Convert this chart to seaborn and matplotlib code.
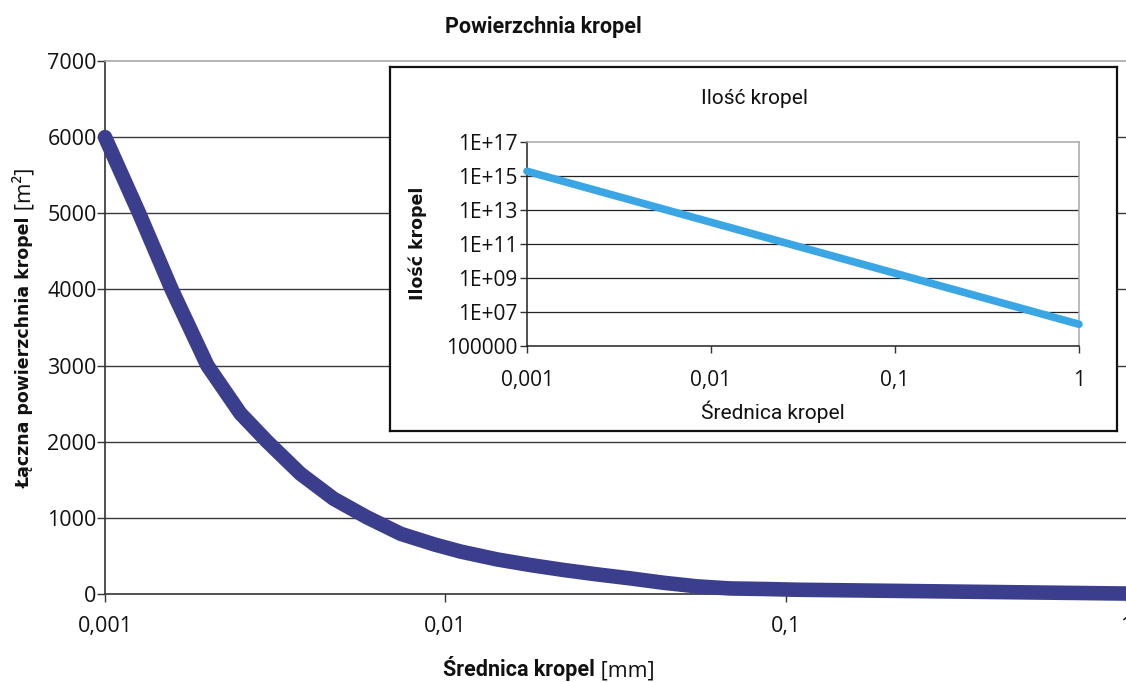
import matplotlib
matplotlib.use("Agg")
import matplotlib.pyplot as plt
import seaborn as sns
import pandas as pd
from matplotlib.ticker import FixedLocator, FixedFormatter, NullLocator

# ---- data ----
diameter_mm = [0.001, 0.00126, 0.00157, 0.002, 0.0025, 0.003, 0.00375, 0.0047,
               0.0059, 0.0074, 0.0093, 0.0111, 0.0142, 0.0178, 0.0223, 0.028,
               0.035, 0.0437, 0.055, 0.0686, 0.086, 0.108, 1]
surface_m2 = [6000, 5000, 4000, 3000, 2370, 2000, 1580, 1250,
              1005, 790, 650, 557, 454, 380, 315, 257,
              205, 148, 100, 73, 66, 56, 6]

inset_diameter_mm = [0.001, 0.01, 0.1, 1]
drop_count = [1.9e15, 1.9e12, 1.9e9, 1.9e6]

x_ticks = [0.001, 0.01, 0.1, 1]
x_ticklabels = ["0,001", "0,01", "0,1", "1"]
y_ticks = [0, 1000, 2000, 3000, 4000, 5000, 6000, 7000]
y_ticklabels = ["0", "1000", "2000", "3000", "4000", "5000", "6000", "7000"]
inset_y_ticks = [1e5, 1e7, 1e9, 1e11, 1e13, 1e15, 1e17]
inset_y_ticklabels = ["100000", "1E+07", "1E+09", "1E+11", "1E+13", "1E+15", "1E+17"]

title = "Powierzchnia kropel"
xlabel_parts = [("Średnica kropel", "bold"), (" [mm]", "normal")]
ylabel_parts = [("Łączna powierzchnia kropel", "bold"), (" [m²]", "normal")]
inset_title = "Ilość kropel"
inset_xlabel = "Średnica kropel"
inset_ylabel = "Ilość kropel"

main_color = "#3B3E8C"
inset_color = "#3AA6E4"

sns.set_style("white")
plt.rcParams["font.family"] = ["Open Sans", "DejaVu Sans"]

W, H = 1126, 682
fig = plt.figure(figsize=(W / 100, H / 100), dpi=100)
fig.patch.set_facecolor("white")


def fx(px):
    return px / W


def fy(py):
    return 1 - py / H


# ---- main axes ----
ax = fig.add_axes([fx(105), fy(594), fx(1126) - fx(105), fy(61) - fy(594)])
df = pd.DataFrame({"d": diameter_mm, "s": surface_m2})
sns.lineplot(data=df, x="d", y="s", ax=ax, color=main_color, linewidth=10.5,
             sort=False, solid_capstyle="round", solid_joinstyle="round", zorder=5)
for ln in ax.lines:
    ln.set_clip_on(False)
ax.set_xscale("log")
ax.set_xlim(x_ticks[0], x_ticks[-1])
ax.set_ylim(y_ticks[0], y_ticks[-1])
ax.xaxis.set_major_locator(FixedLocator(x_ticks))
ax.xaxis.set_major_formatter(FixedFormatter(x_ticklabels))
ax.xaxis.set_minor_locator(NullLocator())
ax.yaxis.set_major_locator(FixedLocator(y_ticks))
ax.yaxis.set_major_formatter(FixedFormatter(y_ticklabels))
for v in y_ticks[1:-1]:
    ax.axhline(v, color="#3a3a3a", linewidth=1.0, zorder=1)
ax.set_xlabel("")
ax.set_ylabel("")
for side in ["left", "bottom"]:
    ax.spines[side].set_color("#333333")
    ax.spines[side].set_linewidth(1.2)
ax.spines["top"].set_color("#a8a8a8")
ax.spines["top"].set_linewidth(1.2)
ax.spines["right"].set_visible(False)
ax.tick_params(axis="x", direction="out", length=6, width=1, color="#333333",
               pad=10, labelsize=15.5, labelcolor="#111111", bottom=True)
ax.tick_params(axis="y", direction="out", length=6, width=1, color="#333333",
               pad=0, labelsize=15.5, labelcolor="#111111", left=True)

fig.text(fx(543), fy(27), title, ha="center", va="center", fontsize=15.5,
         fontweight="bold", family=["Roboto", "DejaVu Sans"], color="#111111")

renderer = fig.canvas.get_renderer()


def split_label(parts, x0, y0, rotation, families, sizes):
    pos = x0 if rotation == 0 else y0
    for (s, w), fam, size in zip(parts, families, sizes):
        if rotation == 0:
            t = fig.text(fx(pos), fy(y0), s, fontweight=w, ha="left", va="baseline",
                         rotation=0, fontsize=size, family=fam, color="#111111")
            ext = t.get_window_extent(renderer)
            pos += ext.width
        else:
            t = fig.text(fx(x0), fy(pos), s, fontweight=w, ha="left", va="baseline",
                         rotation=90, rotation_mode="anchor", fontsize=size,
                         family=fam, color="#111111")
            ext = t.get_window_extent(renderer)
            pos -= ext.height


split_label(xlabel_parts, 443, 676, 0,
            [["Roboto", "DejaVu Sans"], ["Open Sans", "DejaVu Sans"]], [15.5, 15.5])
split_label(ylabel_parts, 30, 488, 90,
            [["DejaVu Sans"], ["Open Sans", "DejaVu Sans"]], [12.5, 16])

# ---- inset frame ----
frame = fig.add_axes([fx(390), fy(431), fx(1117) - fx(390), fy(67) - fy(431)], zorder=3)
frame.set_facecolor("white")
frame.set_xticks([])
frame.set_yticks([])
for sp in frame.spines.values():
    sp.set_color("#111111")
    sp.set_linewidth(1.6)

# ---- inset axes ----
ins = fig.add_axes([fx(527), fy(346), fx(1079) - fx(527), fy(142) - fy(346)], zorder=4)
ins.set_facecolor("none")
dfi = pd.DataFrame({"d": inset_diameter_mm, "n": drop_count})
sns.lineplot(data=dfi, x="d", y="n", ax=ins, color=inset_color, linewidth=5.5,
             solid_capstyle="round", zorder=5)
for ln in ins.lines:
    ln.set_clip_on(False)
ins.set_xscale("log")
ins.set_yscale("log")
ins.set_xlim(x_ticks[0], x_ticks[-1])
ins.set_ylim(inset_y_ticks[0], inset_y_ticks[-1])
ins.xaxis.set_major_locator(FixedLocator(x_ticks))
ins.xaxis.set_major_formatter(FixedFormatter(x_ticklabels))
ins.xaxis.set_minor_locator(NullLocator())
ins.yaxis.set_major_locator(FixedLocator(inset_y_ticks))
ins.yaxis.set_major_formatter(FixedFormatter(inset_y_ticklabels))
ins.yaxis.set_minor_locator(NullLocator())
for v in inset_y_ticks[1:-1]:
    ins.axhline(v, color="#222222", linewidth=0.9, zorder=1)
ins.set_xlabel("")
ins.set_ylabel("")
for side in ["left", "bottom"]:
    ins.spines[side].set_color("#222222")
    ins.spines[side].set_linewidth(1.1)
for side in ["top", "right"]:
    ins.spines[side].set_color("#a8a8a8")
    ins.spines[side].set_linewidth(1.1)
ins.tick_params(axis="x", direction="out", length=5, width=1, color="#333333",
                pad=12, labelsize=15, labelcolor="#111111", bottom=True)
ins.tick_params(axis="y", direction="out", length=5, width=1, color="#333333",
                pad=2, labelsize=15, labelcolor="#111111", left=True)

fig.text(fx(754), fy(98), inset_title, ha="center", va="center", fontsize=15,
         family=["Roboto", "DejaVu Sans"], color="#111111", zorder=6)
fig.text(fx(773), fy(412), inset_xlabel, ha="center", va="center", fontsize=15,
         family=["Roboto", "DejaVu Sans"], color="#111111", zorder=6)
fig.text(fx(418), fy(243), inset_ylabel, ha="center", va="center", fontsize=12.5,
         rotation=90, fontweight="bold", family=["DejaVu Sans"], color="#111111", zorder=6)

fig.savefig("out.png", dpi=100, facecolor="white")
